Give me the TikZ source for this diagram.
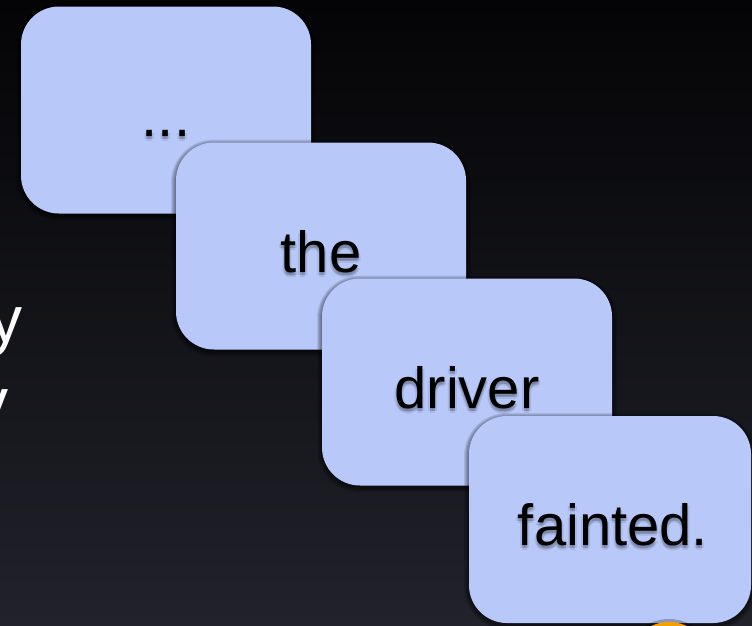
\documentclass[tikz,border=0pt]{standalone}
\usepackage{fontspec}
\setmainfont{Liberation Sans}
\usetikzlibrary{calc}
\definecolor{bgtop}{HTML}{040406}
\definecolor{bgbot}{HTML}{21222A}
\definecolor{boxfill}{HTML}{B8C9F9}
\definecolor{dotorange}{HTML}{F5A000}
\tikzset{
  card/.style={rectangle, rounded corners=38pt, fill=boxfill,
    minimum width=290pt, minimum height=207pt, inner sep=0pt},
  cardshade/.style={fill=black, opacity=0.10},
  word/.style={font=\fontsize{58}{60}\selectfont, text=black, anchor=base, inner sep=0pt},
  wordshadow/.style={font=\fontsize{58}{60}\selectfont, text=black, anchor=base, inner sep=0pt, opacity=0.09},
  sidetext/.style={font=\fontsize{66}{68}\selectfont, text=white, anchor=base east, inner sep=0pt}
}
% soft shadow behind a card: centre x, centre y, half width, half height
\newcommand{\cardshadow}[4]{%
  \foreach \k in {1,2,3,4,5}{%
    \fill[cardshade, rounded corners={38pt+\k pt}]
      (#1-#3-\k, #2-#4-\k+2) rectangle (#1+#3+\k, #2+#4+\k+2);
  }%
}
\newcommand{\shadowword}[3]{%
  \node[wordshadow] at ($(#1)+(0,27)$) {#2};
  \node[wordshadow] at ($(#1)+(2,29)$) {#2};
  \node[wordshadow] at ($(#1)+(-2,29)$) {#2};
  \node[wordshadow] at ($(#1)+(0,31)$) {#2};
  \node[wordshadow] at ($(#1)+(0,29)$) {#2};
  \node[word] (#3) at ($(#1)+(0,26)$) {#2};
}
\begin{document}
\begin{tikzpicture}[x=1pt,y=-1pt]
\useasboundingbox (0,0) rectangle (752,625);
\clip (0,0) rectangle (752,625);
\shade[top color=bgtop, bottom color=bgbot] (0,0) rectangle (752,625);
% side text fragments
\node[sidetext] (side1) at (23,342) {y};
\node[sidetext] (side2) at (9,424) {y};
% cards
\cardshadow{166}{110}{145}{103.5}
\node[card] (c1) at (166,110) {};
\shadowword{c1.center}{...}{w1}
\cardshadow{321}{246}{145}{103.5}
\node[card] (c2) at (321,246) {};
\shadowword{c2.center}{the}{w2}
\cardshadow{467}{382}{145}{103.5}
\node[card] (c3) at (467,382) {};
\shadowword{c3.center}{driver}{w3}
\cardshadow{610}{519.5}{141}{103.5}
\node[card, minimum width=282pt] (c4) at (610,519.5) {};
\shadowword{$(c4.center)+(3,0)$}{fainted.}{w4}
% orange dot at bottom
\fill[black, opacity=0.25] (669,664) circle (45);
\fill[dotorange] (669,664) circle (42) coordinate (dot);
\end{tikzpicture}
\end{document}
